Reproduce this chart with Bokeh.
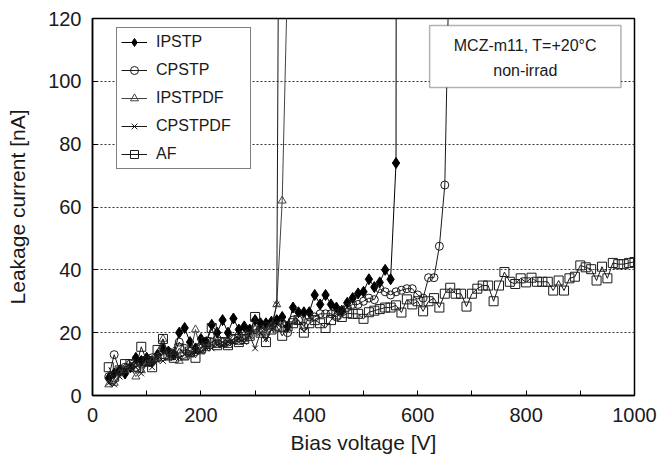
from bokeh.plotting import figure
from bokeh.models import Range1d, FixedTicker, Legend, LegendItem, BoxAnnotation, Label
from bokeh.embed import file_html
from bokeh.resources import INLINE

# ---------------- data ----------------
V_IPSTP = list(range(30, 580, 10))
I_IPSTP = [5.5, 7, 8, 7, 9, 12, 11, 12, 11, 13,
           15, 14, 13, 20, 21.5, 17, 15, 18, 17, 22.5,
           20, 24, 20, 24.5, 21, 22, 21, 24, 23, 23,
           23.5, 24, 25, 22, 28, 26.5, 26.5, 26.5, 32, 29,
           32, 29, 28, 27, 29.5, 31, 32.5, 33, 37, 34.5,
           36, 40, 37, 74, 2000]

V_CPSTP = list(range(30, 670, 10))
I_CPSTP = [6, 13, 8, 9, 10, 9, 10, 11, 12, 12,
           13, 14, 13, 17, 15, 14, 14, 15, 16, 17,
           18, 17, 17, 18, 19, 19, 20, 21, 21, 22,
           22, 22, 23, 20, 24, 24, 22, 25, 25, 26,
           26, 26, 25, 27, 28, 29, 29, 30, 31, 30.5,
           34, 33, 32, 33, 33.5, 34, 34, 32, 31, 37.5,
           37.5, 47.5, 67, 155]

V_IPSTPDF = list(range(30, 370, 10))
I_IPSTPDF = [3.5, 4, 7, 8, 9, 6, 8, 10, 11, 12,
             18, 12, 14, 11, 12, 13, 21, 14, 15, 17,
             16, 17, 16, 18, 17, 18, 19, 21, 20, 20,
             22, 29, 62, 135]

V_CPSTPDF = list(range(30, 360, 10))
I_CPSTPDF = [4, 3.5, 6, 8, 9, 9, 7, 10, 9, 11,
             11, 12, 12, 12, 13, 13, 14, 14, 15, 15,
             16, 16, 17, 17, 18, 17, 19, 15, 20, 18,
             21, 29, 380]

V_AF = list(range(30, 1010, 10))
I_AF = [9, 6, 8, 10, 10, 9, 15.5, 11, 9, 14.5,
        18, 13, 12, 15, 13, 14, 12, 15, 17, 21.5,
        16, 17, 16, 18, 17, 18, 19, 25, 20, 17,
        21, 22, 19, 22, 23, 24, 20, 23, 24, 23,
        21.5, 24,
        25.8, 25, 26.2, 26, 26, 24.4, 26.5, 27, 27.5, 28,
        28, 28.7, 26.4, 30.6, 29, 30, 26.8, 30, 31, 28,
        32.4, 34.3, 32.4, 32.4, 28.3, 32.4, 34, 35, 35, 30,
        35, 39.3, 36.2, 35.5, 37.3, 36, 37.5, 36.2, 36.2, 36.2,
        33.4, 36.6, 33.4, 37.3, 37.8, 41.4, 40.8, 40.2, 36.6, 41,
        37.3, 42.2, 41.8, 41.8, 42.2, 42.5]

X_TICKS = [0, 200, 400, 600, 800, 1000]
X_MINOR = [100, 300, 500, 700, 900]
Y_TICKS = [0, 20, 40, 60, 80, 100, 120]

FONT = "Liberation Sans"
TXT = "#1a1a1a"

p = figure(width=659, height=460, output_backend="svg", toolbar_location=None,
           x_range=Range1d(0, 1000), y_range=Range1d(0, 120),
           min_border_left=92, min_border_right=25, min_border_top=18, min_border_bottom=65)
p.background_fill_color = "white"
p.border_fill_color = "white"
p.outline_line_color = "black"
p.outline_line_width = 1.5

p.xgrid.visible = False
p.ygrid.ticker = FixedTicker(ticks=Y_TICKS)
p.ygrid.grid_line_color = "#333333"
p.ygrid.grid_line_dash = "2 2"
p.ygrid.grid_line_width = 1

p.xaxis.ticker = FixedTicker(ticks=X_TICKS, minor_ticks=X_MINOR)
p.yaxis.ticker = FixedTicker(ticks=Y_TICKS)
for ax in (p.xaxis[0], p.yaxis[0]):
    ax.axis_line_color = "black"
    ax.axis_line_width = 1.5
    ax.major_tick_in = 5
    ax.major_tick_out = 0
    ax.minor_tick_in = 5
    ax.minor_tick_out = 0
    ax.major_tick_line_color = "black"
    ax.minor_tick_line_color = "black"
    ax.major_label_text_font = FONT
    ax.major_label_text_font_size = "20px"
    ax.major_label_text_color = TXT
    ax.axis_label_text_font = FONT
    ax.axis_label_text_font_size = "21px"
    ax.axis_label_text_font_style = "normal"
    ax.axis_label_text_color = TXT
p.yaxis.minor_tick_line_color = None
p.xaxis.major_label_standoff = 12
p.yaxis.major_label_standoff = 11
p.xaxis.axis_label = "Bias voltage [V]"
p.yaxis.axis_label = "Leakage current [nA]"
p.xaxis.axis_label_standoff = 6
p.yaxis.axis_label_standoff = 16

items = []
# IPSTP
l1 = p.line(V_IPSTP, I_IPSTP, line_color="black", line_width=1)
m1 = p.scatter(V_IPSTP, I_IPSTP, marker="diamond", size=11, fill_color="black", line_color="black")
items.append(LegendItem(label="IPSTP", renderers=[l1, m1]))
# CPSTP
l2 = p.line(V_CPSTP, I_CPSTP, line_color="#1a1a1a", line_width=1)
m2 = p.scatter(V_CPSTP, I_CPSTP, marker="circle", size=8, fill_alpha=0, line_color="#1a1a1a")
items.append(LegendItem(label="CPSTP", renderers=[l2, m2]))
# IPSTPDF
l3 = p.line(V_IPSTPDF, I_IPSTPDF, line_color="#444444", line_width=1)
m3 = p.scatter(V_IPSTPDF, I_IPSTPDF, marker="triangle", size=8, fill_alpha=0, line_color="#444444")
items.append(LegendItem(label="IPSTPDF", renderers=[l3, m3]))
# CPSTPDF
l4 = p.line(V_CPSTPDF, I_CPSTPDF, line_color="#1a1a1a", line_width=1)
m4 = p.scatter(V_CPSTPDF, I_CPSTPDF, marker="x", size=8, line_color="#1a1a1a")
items.append(LegendItem(label="CPSTPDF", renderers=[l4, m4]))
# AF
l5 = p.line(V_AF, I_AF, line_color="#1a1a1a", line_width=1)
m5 = p.scatter(V_AF, I_AF, marker="square", size=9, fill_alpha=0, line_color="#1a1a1a")
items.append(LegendItem(label="AF", renderers=[l5, m5]))

legend = Legend(items=items, location=(24, 226))
legend.label_text_font = FONT
legend.label_text_font_size = "16px"
legend.label_text_color = TXT
legend.glyph_width = 26
legend.glyph_height = 20
legend.label_height = 20
legend.spacing = 8
legend.padding = 4
legend.margin = 0
legend.label_standoff = 9
legend.label_width = 90
legend.border_line_color = "black"
legend.border_line_width = 1.5
legend.background_fill_color = "white"
legend.background_fill_alpha = 1
p.add_layout(legend, "center")

box = BoxAnnotation(left=622, right=975, bottom=98, top=117.8,
                    fill_color="white", fill_alpha=1, line_color="black", line_width=1.5)
p.add_layout(box)
p.add_layout(Label(x=798.5, y=111.5, text="MCZ-m11, T=+20°C", text_align="center",
                   text_baseline="middle", text_font=FONT, text_font_size="16px", text_color=TXT))
p.add_layout(Label(x=798.5, y=103.5, text="non-irrad", text_align="center",
                   text_baseline="middle", text_font=FONT, text_font_size="16px", text_color=TXT))

open("out.html", "w").write(file_html(p, INLINE))
